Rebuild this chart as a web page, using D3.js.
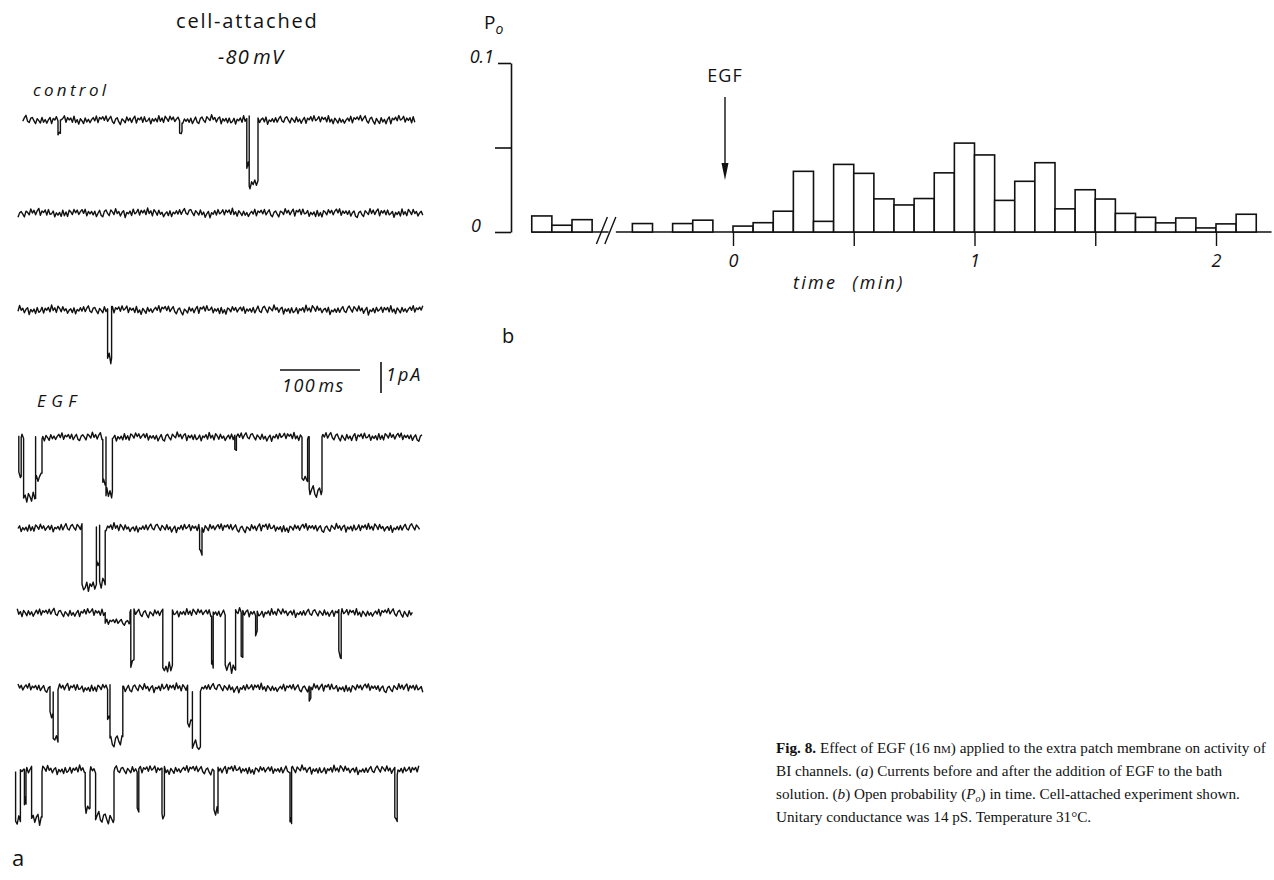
<!DOCTYPE html>
<html><head><meta charset="utf-8">
<script src="https://cdn.jsdelivr.net/npm/d3@7"></script>
<style>
html,body{margin:0;padding:0;background:#fff;}
svg text{fill:#111;}
</style></head>
<body>
<svg id="fig" width="1274" height="880"></svg>
<script>
// ---------- DATA ----------
// Panel b: open probability in 5-s bins (bin index relative to EGF addition)
const preBins = [-10, -9, -8, -5, -3, -2];
const prePo = [0.0095, 0.004, 0.0073, 0.005, 0.005, 0.007];
const postBins = [0,1,2,3,4,5,6,7,8,9,10,11,12,13,14,15,16,17,18,19,20,21,22,23,24,25];
const postPo = [0.0035,0.0055,0.0123,0.0359,0.0063,0.040,0.0347,0.0196,0.016,0.0198,0.035,0.0526,
                0.0456,0.0187,0.030,0.041,0.0137,0.025,0.0195,0.011,0.0087,0.0054,0.0083,0.0024,0.0048,0.0105];
const yTicks = [0, 0.05, 0.1];
const yTickLabels = ["0", "", "0.1"];
const xTicks = [0, 0.5, 1, 1.5, 2];
const xTickLabels = ["0", "", "1", "", "2"];

// Panel a: single-channel current sweeps (ms), openings [start ms, end ms, amplitude pA]
const traceNames = ["control-1","control-2","control-3","EGF-1","EGF-2","EGF-3","EGF-4","EGF-5"];
const traceSpans = [[6,497],[0,506],[0,506],[1,506],[0,502],[-1,494],[0,506],[-3,502]];
const openings1 = [[50,53,0.4],[202,205,0.35],[286,289,1.5],[289,300,2.0]];
const openings2 = [];
const openings3 = [[112,117,1.6]];
const openings4 = [[1,4,1.2],[7,22,1.9],[22,30,1.3],[106,110,1.4],[110,118,1.8],[271,273,0.5],[355,362,1.4],[364,380,1.8]];
const openings5 = [[80,98,1.9],[98,102,1.2],[102,109,1.8],[227,230,0.8]];
const openings6 = [[109,140,0.3],[141,145,1.6],[181,193,1.8],[242,244,1.7],[259,272,1.75],[279,281,1.3],[297,299,0.7],[401,404,1.35]];
const openings7 = [[40,44,0.9],[44,50,1.7],[112,115,0.9],[115,131,1.7],[212,218,1.2],[218,228,1.9],[364,366,0.45]];
const openings8 = [[-3,3,1.6],[8,10,1.06],[17,30,1.55],[84,90,1.2],[97,120,1.55],[149,151,1.35],[180,183,1.45],[245,250,1.4],[340,342,1.6],[471,474,1.6]];
const allOpenings = [openings1,openings2,openings3,openings4,openings5,openings6,openings7,openings8];
// baseline noise read as a texture (pA)
const noiseA = [0.06,-0.04,0.09,-0.07,0.03,0.10,-0.05,-0.09,0.04,0.08,-0.02,-0.10,0.07,0.01,-0.06,0.11,-0.03,0.05,-0.08,0.02,0.09,-0.11,0.04,-0.01,0.07,-0.06,0.10,-0.04,0.00,0.08,-0.09,0.05,-0.02,0.06,-0.07,0.11,-0.05,0.03,-0.10,0.08,0.02,-0.06,0.09,-0.03,0.05,-0.08,0.01,0.07,-0.04,0.10,-0.09,0.04,-0.01];
const noiseB = [0.03,0.05,0.02,-0.01,-0.04,-0.05,-0.02,0.01,0.04,0.06,0.03,0.00,-0.03,-0.06,-0.04,0.00,0.02,0.05,0.04,0.01,-0.02,-0.05,-0.03,0.01,0.03,0.02,-0.01,-0.03,-0.02,0.02,0.04];

// ---------- LAYOUT ----------
const traceBaseY = [120, 213, 310, 437, 528, 613, 688, 770];
const svg = d3.select("#fig");
svg.append("rect").attr("width",1274).attr("height",880).attr("fill","#fff");
const SANS = "'Open Sans', 'DejaVu Sans', sans-serif";
const SERIF = "'Liberation Serif', 'Times New Roman', serif";

// ---------- PANEL B ----------
const x = d3.scaleLinear().domain([0, 2]).range([733, 1216]);
const y = d3.scaleLinear().domain([0, 0.1]).range([232, 63]);
const binW = 1/12;
const gb = svg.append("g");
const bars = preBins.map((b,i)=>({b, v: prePo[i]})).concat(postBins.map((b,i)=>({b, v: postPo[i]})));

gb.append("line").attr("x1", x(-10*binW)).attr("x2", x(-0.515)).attr("y1", y(0)).attr("y2", y(0))
  .attr("stroke","#111").attr("stroke-width",1.6);
gb.append("line").attr("x1", x(-0.485)).attr("x2", x(2.23)).attr("y1", y(0)).attr("y2", y(0))
  .attr("stroke","#111").attr("stroke-width",1.6);
[-0.545, -0.51].forEach(t => {
  gb.append("line").attr("x1", x(t)-5).attr("x2", x(t)+6).attr("y1", y(0)+12).attr("y2", y(0)-15)
    .attr("stroke","#111").attr("stroke-width",1.4);
});

gb.selectAll("rect.bar").data(bars).enter().append("rect").attr("class","bar")
  .attr("x", d => x(d.b*binW)).attr("width", d => x((d.b+1)*binW) - x(d.b*binW))
  .attr("y", d => y(d.v)).attr("height", d => y(0) - y(d.v))
  .attr("fill","#fff").attr("stroke","#111").attr("stroke-width",1.6);

const xAxis = d3.axisBottom(x).tickValues(xTicks).tickSize(14).tickPadding(8)
  .tickFormat((d,i) => xTickLabels[i]);
const gx = gb.append("g").attr("transform", `translate(0,${y(0)})`).call(xAxis);
gx.select(".domain").remove();
gx.selectAll(".tick line").attr("stroke","#111").attr("stroke-width",1.4);
gx.selectAll(".tick text").attr("font-family",SANS).attr("font-style","italic").attr("font-size",18).attr("fill","#111");

const yAxis = d3.axisLeft(y).tickValues(yTicks).tickSize(16).tickSizeOuter(0).tickPadding(7)
  .tickFormat((d,i) => yTickLabels[i]);
const gy = gb.append("g").attr("transform", "translate(511,0)").call(yAxis);
gy.select(".domain").attr("stroke","#111").attr("stroke-width",1.6);
gy.selectAll(".tick line").attr("stroke","#111").attr("stroke-width",1.6);
gy.selectAll(".tick").filter(d => d === 0.1).select("line").attr("x2", -13);
gy.selectAll(".tick text").attr("font-family",SANS).attr("font-style","italic").attr("font-size",18)
  .attr("fill","#111").attr("dy","-0.05em");
gy.selectAll(".tick").filter(d => d === 0.1).select("text").attr("x", -17);
gy.selectAll(".tick").filter(d => d === 0).select("text").attr("x", -30);

const po = gb.append("text").attr("x",484).attr("y",29).attr("font-family",SANS).attr("font-size",19);
po.append("tspan").text("P");
po.append("tspan").attr("font-size",14).attr("font-style","italic").attr("dy",5).text("o");

gb.append("text").attr("x",725).attr("y",82).attr("text-anchor","middle").attr("font-family",SANS)
  .attr("font-size",18).attr("letter-spacing",1).text("EGF");
gb.append("line").attr("x1",725).attr("x2",725).attr("y1",97).attr("y2",168).attr("stroke","#111").attr("stroke-width",1.4);
gb.append("path").attr("d","M721.5,163 L725,180 L728.5,163 Z").attr("fill","#111");

gb.append("text").attr("x",793).attr("y",289).attr("font-family",SANS).attr("font-style","italic")
  .attr("font-size",18).attr("letter-spacing",2.3).attr("word-spacing",8).text("time (min)");
gb.append("text").attr("x",502).attr("y",343).attr("font-family",SANS).attr("font-size",20).text("b");

// ---------- PANEL A ----------
const tx = d3.scaleLinear().domain([0, 500]).range([18, 418]);
const amp = d3.scaleLinear().domain([0, -1]).range([0, 31]);
const STEP = 2;
const mod = (i, n) => ((i % n) + n) % n;
function noiseAt(i, k) {
  const a = noiseA[mod(i + 7*k, noiseA.length)];
  const b = noiseB[mod(Math.floor(i/3) + 5*k, noiseB.length)];
  return 1.1*a + 0.8*b;
}
function levelAt(t, ev, k) {
  const i = Math.round(t/STEP);
  const e = ev.find(o => t > o[0] && t < o[1]);
  if (!e) return noiseAt(i,k);
  return -e[2] + (e[2] > 1 ? 1.6 : 0.8) * noiseAt(i+11,k);
}
const line = d3.line().x(d => tx(d[0])).y(d => d[1]);
const ga = svg.append("g");
traceNames.forEach((name, k) => {
  const span = traceSpans[k], ev = allOpenings[k];
  const times = [];
  for (let t = span[0]; t <= span[1]; t += STEP) times.push({t, kind:"s"});
  ev.forEach(e => { times.push({t:e[0], kind:"start", e}); times.push({t:e[1], kind:"end", e}); });
  times.sort((a,b) => a.t - b.t || (a.kind === "end" ? -1 : 1));
  const pts = [];
  times.forEach(p => {
    const i = Math.round(p.t/STEP);
    const base = traceBaseY[k];
    if (p.kind === "start") {
      if (p.t > span[0]) pts.push([p.t, base + amp(noiseAt(i,k))]);
      pts.push([p.t, base + amp(-p.e[2] + noiseAt(i+11,k))]);
    } else if (p.kind === "end") {
      pts.push([p.t, base + amp(-p.e[2] + noiseAt(i+13,k))]);
      pts.push([p.t, base + amp(noiseAt(i,k))]);
    } else {
      pts.push([p.t, base + amp(levelAt(p.t, ev, k))]);
    }
  });
  ga.append("path").attr("d", line(pts)).attr("fill","none").attr("stroke","#111")
    .attr("stroke-width",1.4).attr("stroke-linejoin","round");
});

ga.append("text").attr("x",176).attr("y",28).attr("font-family",SANS).attr("font-size",20)
  .attr("letter-spacing",1.8).text("cell-attached");
ga.append("text").attr("x",218).attr("y",64).attr("font-family",SANS).attr("font-style","italic")
  .attr("font-size",20).attr("letter-spacing",1.2).attr("word-spacing",-3).text("-80 mV");
ga.append("text").attr("x",33).attr("y",96).attr("font-family",SANS).attr("font-style","italic")
  .attr("font-size",17).attr("letter-spacing",3.3).text("control");
ga.append("line").attr("x1",tx(327.5)).attr("x2",tx(427.5)).attr("y1",370).attr("y2",370).attr("stroke","#111").attr("stroke-width",1.6);
ga.append("line").attr("x1",381).attr("x2",381).attr("y1",362).attr("y2",362+amp(-1)).attr("stroke","#111").attr("stroke-width",1.6);
ga.append("text").attr("x",282).attr("y",392).attr("font-family",SANS).attr("font-style","italic")
  .attr("font-size",18).attr("letter-spacing",1.5).attr("word-spacing",-4).text("100 ms");
ga.append("text").attr("x",386).attr("y",381).attr("font-family",SANS).attr("font-style","italic")
  .attr("font-size",18).attr("letter-spacing",2).text("1pA");
ga.append("text").attr("x",37).attr("y",407).attr("font-family",SANS).attr("font-style","italic")
  .attr("font-size",17).attr("letter-spacing",5.5).text("EGF");
ga.append("text").attr("x",12).attr("y",866).attr("font-family",SANS).attr("font-size",22).text("a");

// ---------- CAPTION ----------
const cap = svg.append("g").attr("font-family",SERIF).attr("font-size",15.2);
const l1 = cap.append("text").attr("x",776).attr("y",753);
l1.append("tspan").attr("font-weight","bold").text("Fig. 8.");
l1.append("tspan").text(" Effect of EGF (16 n");
l1.append("tspan").attr("font-size",11).text("M");
l1.append("tspan").text(") applied to the extra patch membrane on activity of");
const l2 = cap.append("text").attr("x",776).attr("y",776);
l2.append("tspan").text("BI channels. (");
l2.append("tspan").attr("font-style","italic").text("a");
l2.append("tspan").text(") Currents before and after the addition of EGF to the bath");
const l3 = cap.append("text").attr("x",776).attr("y",799);
l3.append("tspan").text("solution. (");
l3.append("tspan").attr("font-style","italic").text("b");
l3.append("tspan").text(") Open probability (");
l3.append("tspan").attr("font-style","italic").text("P");
l3.append("tspan").attr("font-style","italic").attr("font-size",10).attr("dy",3).text("o");
l3.append("tspan").attr("dy",-3).text(") in time. Cell-attached experiment shown.");
cap.append("text").attr("x",776).attr("y",822).text("Unitary conductance was 14 pS. Temperature 31°C.");
</script>
</body></html>
